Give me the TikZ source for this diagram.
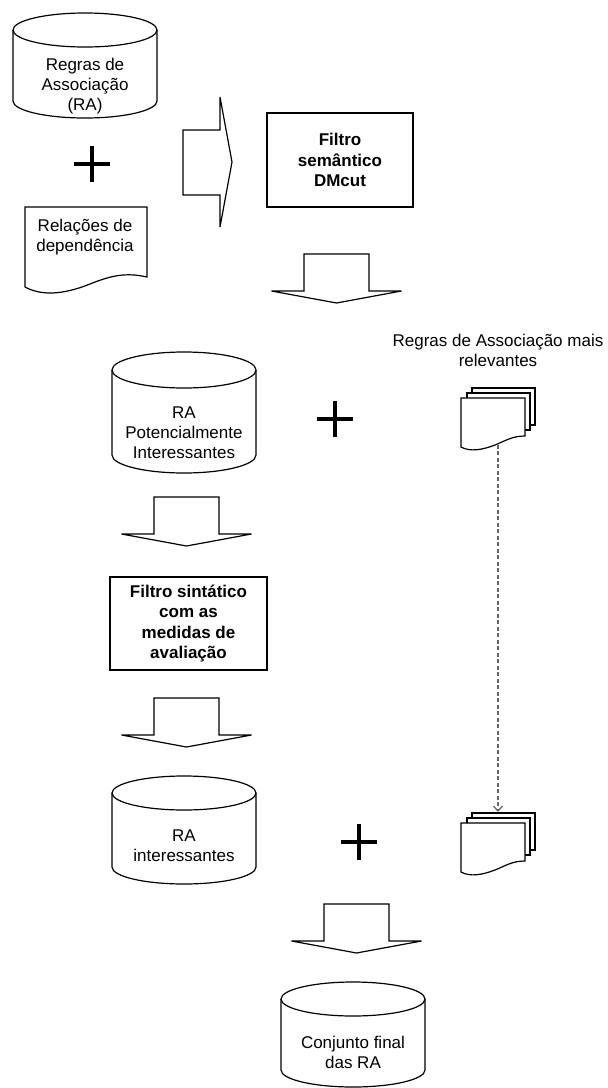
\documentclass[tikz,border=0pt]{standalone}
\usepackage{fontspec}
\setmainfont{Liberation Sans}
\usetikzlibrary{arrows.meta}
\newcommand\drumshape[5]{% cx, ytop, ybot, rx, ry
  \draw[shapeline] (#1-#4,#2) -- (#1-#4,#3) arc[start angle=180,end angle=0,x radius=#4,y radius=#5] -- (#1+#4,#2);
  \draw[shapeline] (#1,#2) ellipse[x radius=#4, y radius=#5];
}
\newcommand\downblock[2]{% cx, top
  \draw[blockarrow] (#1-32.5,#2) -- (#1+32.5,#2) -- (#1+32.5,#2+37) -- (#1+65,#2+37) -- (#1,#2+49) -- (#1-65,#2+37) -- (#1-32.5,#2+37) -- cycle;
}
\newcommand\docstack[1]{% y offset
  \draw[shapeline] (472,388+#1) rectangle (535,425+#1);
  \draw[shapeline] (467,393+#1) rectangle (530,430+#1);
  \draw[shapeline] (461,398+#1) -- (525,398+#1) -- (525,436+#1) .. controls (512,436+#1) and (505,441+#1) .. (495,445+#1) .. controls (482,450+#1) and (470,452+#1) .. (461,447+#1) -- cycle;
}
\begin{document}
\begin{tikzpicture}[x=1pt,y=-1pt,
  shapeline/.style={draw=black, line width=1.2pt, fill=white, line join=miter},
  blockarrow/.style={draw=black, line width=1.2pt, fill=white, line join=miter},
  txt/.style={align=center, font=\fontsize{17}{20}\selectfont, inner sep=0pt},
  boldtxt/.style={align=center, font=\fontsize{17}{20.5}\selectfont\bfseries, inner sep=0pt},
  filterbox/.style={draw=black, line width=1.2pt, rectangle, inner sep=0pt},
  plussign/.style={line width=4pt},
  link/.style={draw=black!60, dash pattern=on 4pt off 2.5pt, line width=1.3pt, -{Straight Barb[length=5pt,width=9pt]}}
]
\useasboundingbox (0,0) rectangle (608,1088);

% cylinders
\drumshape{85}{30}{101}{72}{17}
\drumshape{184}{370}{455}{72}{18}
\drumshape{184}{793}{867}{72}{17}
\drumshape{353}{999}{1070}{72}{17}

% document
\draw[shapeline] (25,207) -- (147,207) -- (147,277) .. controls (125,272) and (110,276) .. (90,284) .. controls (70,292) and (45,298) .. (25,287) -- cycle;

% document stacks
\docstack{0}
\docstack{425}

% plus signs
\coordinate (p1) at (92,164);
\coordinate (p2) at (334.5,419);
\coordinate (p3) at (359,842);
\foreach \p in {p1,p2,p3}{
  \draw[plussign] (\p) ++(-18,0) -- ++(36,0) (\p) ++(0,-18) -- ++(0,36);
}

% right block arrow
\draw[blockarrow] (183,130) -- (220,130) -- (220,97) -- (232,162) -- (220,227) -- (220,195) -- (183,195) -- cycle;

% down block arrows
\downblock{336.5}{254}
\downblock{186.5}{497}
\downblock{186.5}{698}
\downblock{356.5}{904}

% boxes
\node[filterbox, boldtxt, minimum width=146pt, minimum height=94pt] (dm) at (340,160) {Filtro\\semântico\\DMcut};
\node[filterbox, boldtxt, minimum width=157pt, minimum height=93pt] (sint) at (188.5,623.5) {Filtro sintático\\com as\\medidas de\\avaliação};

% texts
\node[txt] (ra) at (85,86) {Regras de\\Associação\\(RA)};
\node[txt] (rel) at (85,237) {Relações de\\dependência};
\node[txt] (title) at (498,350) {Regras de Associação mais\\relevantes};
\node[txt] (rapi) at (184,433) {RA\\Potencialmente\\Interessantes};
\node[txt] (rai) at (184,846) {RA\\interessantes};
\node[txt] (final) at (353,1052) {Conjunto final\\das RA};

% dashed link
\coordinate (s1) at (498,444.5);
\coordinate (s2) at (498,812);
\draw[link] (s1) -- (s2);
\end{tikzpicture}
\end{document}
